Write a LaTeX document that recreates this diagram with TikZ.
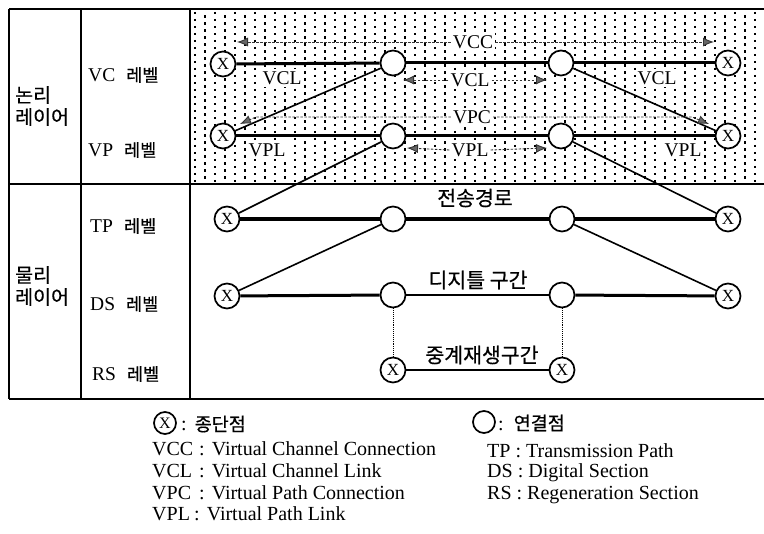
\documentclass[tikz,border=0pt]{standalone}
\usepackage{fontspec}
\setmainfont{Liberation Serif}
\newfontfamily\kr{Noto Sans CJK KR}[FakeBold=0.5]
\newcommand{\klevfont}{\kr\fontsize{17.5}{17.5}\selectfont}
\newcommand{\klegfont}{\kr\fontsize{18.5}{18.5}\selectfont}
\usetikzlibrary{arrows.meta}
\tikzset{
  tbl/.style={line width=1.8pt},
  tpt/.style={circle, draw, line width=1.7pt, fill=white, minimum size=25pt, inner sep=0pt, font=\fontsize{17}{17}\selectfont},
  cpt/.style={circle, draw, line width=1.7pt, fill=white, minimum size=25pt, inner sep=0pt},
  hthick/.style={line width=3pt},
  tpthick/.style={line width=3.8pt},
  dsmid/.style={line width=2.2pt},
  diag/.style={line width=1.6pt},
  rsline/.style={line width=1.5pt},
  vdots/.style={densely dotted, line width=0.9pt},
  lbl/.style={font=\fontsize{19.5}{21}\selectfont, inner sep=2pt, fill=white},
  txt/.style={font=\fontsize{19.5}{21}\selectfont, inner sep=0pt, anchor=west},
  lgtxt/.style={font=\fontsize{20}{22}\selectfont, inner sep=0pt, anchor=west},
  ktxt/.style={font=\kr\fontsize{19.5}{22}\selectfont, inner sep=0pt},
  kpath/.style={font=\kr\fontsize{20.5}{21}\selectfont, inner sep=0pt},
  conn/.style={line width=0.9pt, dash pattern=on 2.5pt off 1.5pt, color=black!80,
    -{Latex[length=11pt,width=9pt,fill=black!60,color=black!80]}},
}
\begin{document}
\begin{tikzpicture}[x=1pt,y=-1pt]
\useasboundingbox (0,0) rectangle (764,534);

% stippled background of the logical layer
\foreach \i in {0,...,56} {
  \pgfmathsetmacro{\xx}{195+10*\i}
  \pgfmathsetmacro{\ph}{mod(\i,2)*3.5}
  \draw[line width=1.5pt, dash pattern=on 2.5pt off 4.5pt, dash phase=\ph pt] (\xx,12) -- (\xx,182);
}

% table
\draw[tbl] (9,9) -- (764,9);
\draw[tbl] (9,184) -- (764,184);
\draw[tbl] (9,399) -- (764,399);
\draw[tbl] (9,9) -- (9,399);
\draw[tbl] (81,9) -- (81,399);
\draw[tbl] (190,9) -- (190,399);

% layer labels
\node[ktxt, align=left, anchor=west] (logl) at (15,106) {논리\\레이어};
\node[ktxt, align=left, anchor=west] (phyl) at (15,286) {물리\\레이어};
\node[txt] (lvc) at (88,75) {VC\hspace{11pt}{\klevfont 레벨}};
\node[txt] (lvp) at (88,150) {VP\hspace{11pt}{\klevfont 레벨}};
\node[txt] (ltp) at (90,226) {TP\hspace{11pt}{\klevfont 레벨}};
\node[txt] (lds) at (90,304) {DS\hspace{11pt}{\klevfont 레벨}};
\node[txt] (lrs) at (92,374) {RS\hspace{11pt}{\klevfont 레벨}};

% points
\node[tpt] (x1) at (223,64) {X};
\node[cpt] (c1) at (393,63) {};
\node[cpt] (c2) at (561,63) {};
\node[tpt] (x2) at (728,63) {X};
\node[tpt] (x3) at (223,136) {X};
\node[cpt] (c3) at (393,136) {};
\node[cpt] (c4) at (561,136) {};
\node[tpt] (x4) at (728,136) {X};
\node[tpt] (x5) at (227,219) {X};
\node[cpt] (c5) at (393,219) {};
\node[cpt] (c6) at (562,219) {};
\node[tpt] (x6) at (728,219) {X};
\node[tpt] (x7) at (227,296) {X};
\node[cpt] (c7) at (393,295) {};
\node[cpt] (c8) at (562,295) {};
\node[tpt] (x8) at (728,296) {X};
\node[tpt] (x9) at (393,370) {X};
\node[tpt] (x10) at (562,370) {X};

% links
\draw[hthick] (x1) -- (c1);
\draw[hthick] (c1) -- (c2);
\draw[hthick] (c2) -- (x2);
\draw[hthick] (x3) -- (c3);
\draw[hthick] (c3) -- (c4);
\draw[hthick] (c4) -- (x4);
\draw[tpthick] (x5) -- (c5);
\draw[tpthick] (c5) -- (c6);
\draw[tpthick] (c6) -- (x6);
\draw[hthick] (x7) -- (c7);
\draw[dsmid] (c7) -- (c8);
\draw[hthick] (c8) -- (x8);
\draw[rsline] (x9) -- (x10);
\draw[diag] (c1) -- (x3);
\draw[diag] (c2) -- (x4);
\draw[diag] (c3) -- (x5);
\draw[diag] (c4) -- (x6);
\draw[diag] (c5) -- (x7);
\draw[diag] (c6) -- (x8);
\draw[vdots] (c7) -- (x9);
\draw[vdots] (c8) -- (x10);

% connection labels and arrows
\node[lbl] (vcc) at (473,42) {VCC};
\coordinate (vccl) at (237,42);
\coordinate (vccr) at (714,42);
\draw[conn] (vcc.west) -- (vccl);
\draw[conn] (vcc.east) -- (vccr);

\node[lbl] (vcl1) at (282,78) {VCL};
\node[lbl] (vclm) at (470,80) {VCL};
\node[lbl] (vcl3) at (657,78) {VCL};
\coordinate (vclml) at (403,80);
\coordinate (vclmr) at (547,80);
\draw[conn] (vclm.west) -- (vclml);
\draw[conn] (vclm.east) -- (vclmr);

\node[lbl] (vpc) at (472,117) {VPC};
\coordinate (vpcl1) at (256,117);
\coordinate (vpcl) at (240,124);
\coordinate (vpcr1) at (692,117);
\coordinate (vpcr) at (709,124);
\draw[conn] (vpc.west) -- (vpcl1) -- (vpcl);
\draw[conn] (vpc.east) -- (vpcr1) -- (vpcr);

\node[lbl] (vpl1) at (267,150) {VPL};
\node[lbl] (vplm) at (470,150) {VPL};
\node[lbl] (vpl3) at (683,150) {VPL};
\coordinate (vplml) at (407,148);
\coordinate (vplmr) at (547,148);
\draw[conn] (vplm.west) -- (vplml);
\draw[conn] (vplm.east) -- (vplmr);

% physical layer labels
\node[kpath] (tpn) at (475,198) {전송경로};
\node[kpath] (dsn) at (478,280) {디지틀 구간};
\node[kpath] (rsn) at (482,355) {중계재생구간};

% legend
\node[tpt, minimum size=22pt, font=\fontsize{16}{16}\selectfont] (lgx) at (165,423) {X};
\node[lgtxt] (lgxt) at (181,424) {:\hspace{8pt}{\klegfont 종단점}};
\node[lgtxt] (lg1a) at (152,449) {VCC};
\node[lgtxt] (lg1b) at (199,449) {:\hspace{7pt}Virtual Channel Connection};
\node[lgtxt] (lg2a) at (152,471) {VCL};
\node[lgtxt] (lg2b) at (199,471) {:\hspace{7pt}Virtual Channel Link};
\node[lgtxt] (lg3a) at (152,493) {VPC};
\node[lgtxt] (lg3b) at (199,493) {:\hspace{7pt}Virtual Path Connection};
\node[lgtxt] (lg4a) at (152,514) {VPL};
\node[lgtxt] (lg4b) at (194,514) {:\hspace{7pt}Virtual Path Link};

\node[cpt, minimum size=22pt] (lgc) at (484,422) {};
\node[lgtxt] (lgct) at (498,423) {:\hspace{10pt}{\klegfont 연결점}};
\node[lgtxt] (lgtp) at (487,451) {TP : Transmission Path};
\node[lgtxt] (lgds) at (487,473) {DS : Digital Section};
\node[lgtxt] (lgrs) at (487,495) {RS : Regeneration Section};
\end{tikzpicture}
\end{document}
